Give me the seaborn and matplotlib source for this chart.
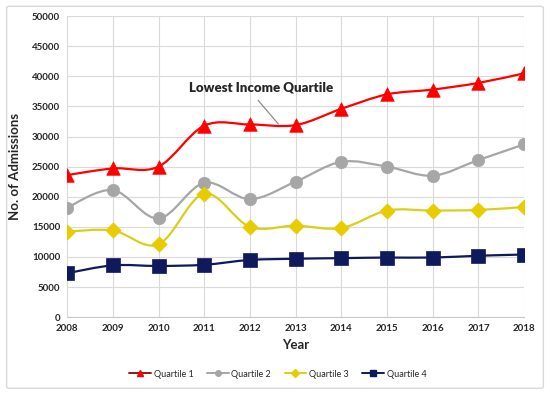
import numpy as np
import pandas as pd
import matplotlib
matplotlib.use("Agg")
import matplotlib.pyplot as plt
from matplotlib.path import Path
from matplotlib.patches import PathPatch, FancyBboxPatch
import matplotlib.lines as mlines
import seaborn as sns

# Data
years = [2008, 2009, 2010, 2011, 2012, 2013, 2014, 2015, 2016, 2017, 2018]
quartile_1 = [23600, 24700, 25000, 31800, 32000, 31900, 34600, 37000, 37800, 38900, 40500]
quartile_2 = [18200, 21100, 16400, 22300, 19600, 22500, 25800, 25000, 23500, 26100, 28700]
quartile_3 = [14200, 14400, 12100, 20500, 15000, 15200, 14800, 17700, 17700, 17800, 18300]
quartile_4 = [7300, 8600, 8500, 8700, 9500, 9700, 9800, 9900, 9900, 10200, 10400]
series_names = ["Quartile 1", "Quartile 2", "Quartile 3", "Quartile 4"]

line_colors = ["#FF0000", "#A6A6A6", "#D9CF1A", "#0F1A5C"]
marker_colors = ["#FF0000", "#A6A6A6", "#E8CC00", "#0F1A5C"]
legend_line_colors = ["#8B1A1A", "#A6A6A6", "#D9CF1A", "#0F1A5C"]
markers = ["^", "o", "D", "s"]
marker_sizes = [95, 80, 60, 95]

df = pd.DataFrame({"Year": years})
for name, vals in zip(series_names, [quartile_1, quartile_2, quartile_3, quartile_4]):
    df[name] = vals
long_df = df.melt(id_vars="Year", var_name="Quartile", value_name="Admissions")


def smooth_path(xs, ys, tension=1 / 6):
    """Excel-like smoothed line as cubic Bezier segments through the points."""
    xs = np.asarray(xs, float)
    ys = np.asarray(ys, float)
    n = len(xs)
    verts = [(xs[0], ys[0])]
    codes = [Path.MOVETO]
    for i in range(n - 1):
        p0 = (xs[max(i - 1, 0)], ys[max(i - 1, 0)])
        p1 = (xs[i], ys[i])
        p2 = (xs[i + 1], ys[i + 1])
        p3 = (xs[min(i + 2, n - 1)], ys[min(i + 2, n - 1)])
        c1 = (p1[0] + (p2[0] - p0[0]) * tension, p1[1] + (p2[1] - p0[1]) * tension)
        c2 = (p2[0] - (p3[0] - p1[0]) * tension, p2[1] - (p3[1] - p1[1]) * tension)
        verts += [c1, c2, p2]
        codes += [Path.CURVE4] * 3
    return Path(verts, codes)


sns.set_style("whitegrid")
plt.rcParams["font.family"] = ["Lato", "DejaVu Sans"]

fig = plt.figure(figsize=(5.5, 3.93), dpi=100)
ax = fig.add_axes([0.122, 0.193, 0.831, 0.766])

# Smoothed lines
for name, color in zip(series_names, line_colors):
    sub = long_df[long_df["Quartile"] == name]
    ax.add_patch(PathPatch(smooth_path(sub["Year"], sub["Admissions"]),
                           facecolor="none", edgecolor=color, lw=1.6, zorder=2))

# Markers
for name, mk, mc, ms in zip(series_names, markers, marker_colors, marker_sizes):
    sns.scatterplot(data=long_df[long_df["Quartile"] == name], x="Year", y="Admissions",
                    marker=mk, color=mc, s=ms, edgecolor=mc, linewidth=0.5,
                    ax=ax, zorder=3, legend=False)

ax.set_xlim(2008, 2018)
ax.set_ylim(0, 50000)
ax.set_xticks(years)
ax.set_yticks(np.arange(0, 50001, 5000))
ax.tick_params(axis="both", labelsize=7, length=0, pad=5)
for lbl in ax.get_xticklabels() + ax.get_yticklabels():
    lbl.set_fontweight("bold")
ax.grid(True, color="#DADADA", lw=0.8)
for side in ax.spines:
    ax.spines[side].set_visible(False)
ax.spines["bottom"].set_visible(True)
ax.spines["bottom"].set_color("#C8C8C8")
ax.spines["left"].set_visible(True)
ax.spines["left"].set_color("#DADADA")

ax.set_xlabel("Year", fontsize=9.5, fontweight="bold", labelpad=4)
ax.set_ylabel("No. of Admissions", fontsize=9.5, fontweight="bold", labelpad=8)

# Annotation
ax.text(2012.25, 38200, "Lowest Income Quartile", fontsize=9.5, fontweight="heavy",
        ha="center", va="center")
ax.plot([2012.18, 2012.62], [36000, 32100], color="#8C8C8C", lw=0.9, zorder=4)

# Legend
handles = [mlines.Line2D([], [], color=lc, marker=mk, markerfacecolor=mc,
                         markeredgecolor=mc, markersize=4, lw=1.4, label=name)
           for name, lc, mk, mc in zip(series_names, legend_line_colors, markers, marker_colors)]
fig.legend(handles=handles, loc="center", bbox_to_anchor=(0.505, 0.048), ncol=4,
           frameon=False, fontsize=6.5, handlelength=2.4, handletextpad=0.3,
           columnspacing=1.5)

# Chart area frame
fig.patches.append(FancyBboxPatch((0.012, 0.012), 0.976, 0.972, boxstyle="round,pad=0,rounding_size=0.005",
                                  transform=fig.transFigure, facecolor="none",
                                  edgecolor="#D9D9D9", lw=1.0))

fig.savefig("out.png", dpi=100)
